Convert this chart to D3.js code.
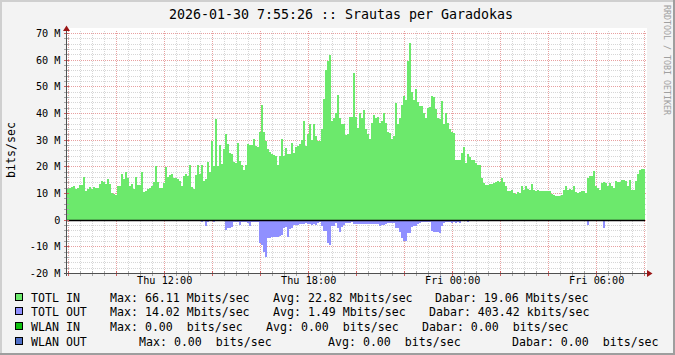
<!DOCTYPE html>
<html>
<head>
<meta charset="utf-8">
<script src="https://cdn.jsdelivr.net/npm/d3@7"></script>
<style>
html, body { margin: 0; padding: 0; background: #f3f3f3; }
svg { display: block; font-family: "DejaVu Sans Mono", monospace; }
text { white-space: pre; }
</style>
</head>
<body>
<svg id="chart" width="675" height="355"></svg>
<script>
// ---- data (5 minute steps, Mbit/s) ----
const startTime = new Date(2026, 0, 29, 7, 57);
const stepMinutes = 5;

const totlIn = [
  12.0, 12.0, 12.2, 12.8, 11.4, 11.8, 12.9, 13.0, 15.9, 10.7,
  11.4, 12.4, 11.6, 12.2, 11.9, 11.8, 13.5, 14.6, 14.0, 13.4,
  15.4, 13.5, 10.0, 9.8, 9.3, 12.8, 12.8, 17.3, 15.4, 18.0,
  15.6, 12.5, 13.4, 11.6, 16.0, 12.9, 13.1, 17.8, 10.3, 10.9,
  11.6, 12.0, 12.5, 14.3, 20.0, 14.1, 12.0, 12.0, 13.8, 19.9,
  16.0, 16.9, 17.3, 15.6, 15.6, 15.3, 14.6, 12.8, 16.5, 17.3,
  16.5, 20.5, 12.3, 11.5, 16.9, 20.5, 17.3, 20.5, 14.4,
  15.1, 21.6, 17.9, 29.5, 20.1, 37.6, 20.1, 27.9, 20.75, 26.6,
  32.0, 28.25, 25.1, 24.75, 21.75, 21.1, 28.9, 22.0, 20.4, 18.6,
  20.4, 28.25, 28.0, 28.1, 30.1, 27.6, 27.4, 32.9, 43.1, 32.9,
  29.5, 26.4, 25.4, 24.5, 24.1, 23.9, 20.4, 23.9, 30.1, 23.9,
  26.75, 24.75, 24.75, 28.9, 25.0, 27.4, 27.6, 28.25, 29.75, 37.0,
  27.5, 32.0, 35.75, 29.75, 35.75, 31.4, 29.5, 29.5, 34.1, 45.4,
  56.1, 59.5, 61.6, 37.0, 38.25, 40.1, 46.9, 38.1, 35.75, 35.75,
  31.6, 32.0, 38.6,
  38.6, 55.1, 38.6, 34.5, 39.9, 38.25, 41.0, 34.1, 32.0, 30.4,
  36.4, 39.1, 38.25, 38.6, 36.1, 37.0, 39.9, 36.4, 32.9, 32.6,
  30.4, 31.4, 43.9, 35.75, 38.25, 42.9, 46.4, 44.75, 59.5, 66.1,
  47.9, 44.75, 48.9, 44.1, 42.6, 42.6, 40.1, 38.25, 41.75, 42.4,
  46.4, 46.0, 41.4, 38.25, 37.9, 44.5, 36.0, 39.9, 36.4, 34.1,
  32.9, 32.6, 22.25, 22.25, 22.25, 24.9, 27.25, 21.1, 24.5, 23.5,
  22.4, 22.25, 21.1, 20.4, 20.6, 15.5, 13.6, 13.0, 13.0, 13.25,
  13.25, 13.6, 14.1, 14.5,
  14.25, 15.75, 14.0, 12.75, 10.6, 10.9, 11.25, 10.0, 9.75, 10.5,
  10.0, 12.75, 11.25, 12.75, 11.6, 11.25, 13.5, 11.25, 10.6, 11.0,
  10.6, 10.6, 10.6, 10.6, 10.9, 10.6, 9.75, 9.25, 9.0, 9.0,
  9.0, 9.4, 11.1, 12.5, 11.25, 11.6, 11.0, 12.5, 10.25, 10.0,
  10.25, 10.6, 10.9, 10.0, 15.5, 16.25, 16.5, 18.4, 12.5, 11.9,
  11.0, 13.75, 14.25, 13.75, 12.75, 13.75, 12.5, 11.9, 14.6, 14.0,
  14.25, 14.75, 15.0, 14.6, 12.5, 15.0, 11.25, 11.25, 14.5, 17.25,
  18.75, 19.1, 19.1
];

const totlOut = [
  0, 0, 0, 0, 0, 0, 0, 0.6, 0.6, 0,
  0, 0, 0, 0, 0, 0, 0, 0, 0, 0,
  0, 0, 0, 0, 0, 0, 0, 0, 0, 0,
  0, 0.5, 0.5, 0.5, 0.5, 0.5, 0.5, 0, 0.5, 0.5,
  0.5, 0.5, 0.5, 0.5, 0.5, 0.5, 0.5, 0.5, 0.5, 0.5,
  0.5, 0.5, 0.5, 0.5, 0.5, 0.5, 0.5, 0, 0.6, 0.6,
  0.6, 0, 0, 0, 0.6, 0.6, 0, 0.7, 0,
  2.4, 0.9, 0.6, 0.6, 0.9, 0.6, 0.6, 0.6, 0.6, 0.6,
  4.0, 3.0, 3.0, 2.75, 0.9, 0.9, 0.9, 1.9, 0.9, 0.9,
  0.9, 1.1, 2.4, 0.9, 0.9, 0.9, 0.9, 8.6, 9.6, 12.1,
  14.02, 6.75, 6.75, 6.4, 6.4, 6.4, 6.4, 6.1, 5.75, 3.0,
  2.6, 6.6, 3.4, 3.1, 2.1, 2.1, 1.9, 1.5, 1.5, 1.5,
  1.4, 1.75, 1.5, 1.9, 1.6, 2.1, 1.4, 0.9, 2.4, 4.25,
  4.25, 8.6, 9.6, 2.4, 2.4, 1.4, 3.25, 4.5, 2.6, 1.9,
  1.4, 1.4, 1.4,
  0.9, 1.5, 1.6, 1.5, 1.75, 1.5, 1.6, 1.5, 1.75, 1.75,
  1.5, 1.75, 1.75, 1.5, 2.4, 2.0, 2.0, 1.75, 1.1, 1.1,
  1.1, 1.1, 3.25, 3.25, 4.6, 6.75, 8.1, 8.1, 5.1, 5.1,
  2.6, 2.4, 2.4, 1.6, 1.1, 0.9, 0.9, 0.9, 0.9, 0.9,
  4.25, 4.6, 4.6, 4.6, 5.1, 2.4, 1.1, 0.9, 0.9, 0.9,
  1.1, 0.9, 1.1, 0.9, 1.1, 0.6, 0.6, 0.6, 0.9, 0.6,
  0.5, 0.5, 0.5, 0.5, 0.5, 0.1, 0.1, 0.1, 0.1, 0.1,
  0.1, 0.1, 0.1, 0.1,
  0, 0, 0, 0, 0, 0, 0, 0, 0, 0,
  0, 0, 0, 0, 0, 0, 0, 0, 0, 0,
  0, 0, 0, 0, 0, 0, 0, 0, 0, 0,
  0, 0, 0, 0, 0, 0, 0, 0, 0, 0,
  0, 0, 0, 0, 1.9, 0.25, 0.25, 0.25, 0.3, 0,
  0, 0, 3.25, 0, 0, 0, 0, 0, 0, 0,
  0, 0, 0.6, 0, 0, 0.6, 0, 0, 0, 0,
  0, 0, 0
];

const titleText = "2026-01-30 7:55:26 :: Srautas per Garadokas";
const yAxisTitle = "bits/sec";
const watermark = "RRDTOOL / TOBI OETIKER";

const legendNames = ["TOTL IN", "TOTL OUT", "WLAN IN", "WLAN OUT"];
const legendMax = ["Max: 66.11 Mbits/sec", "Max: 14.02 Mbits/sec", "Max: 0.00  bits/sec", "Max: 0.00  bits/sec"];
const legendAvg = ["Avg: 22.82 Mbits/sec", "Avg: 1.49 Mbits/sec", "Avg: 0.00  bits/sec", "Avg: 0.00  bits/sec"];
const legendCur = ["Dabar: 19.06 Mbits/sec", "Dabar: 403.42 kbits/sec", "Dabar: 0.00  bits/sec", "Dabar: 0.00  bits/sec"];

// ---- layout / style ----
const W = 675, H = 355;
const plot = { left: 67, right: 645, top: 33, bottom: 273 };
const colIn = "#6ce96c", colOut = "#9090ff";
const legendColors = ["#6ce96c", "#9090ff", "#10c010", "#5070c8"];
const legendCols = [[31, 110, 273, 435], [31, 110, 273, 429], [31, 110, 266, 422], [31, 139, 328, 512]];
const legendY0 = 301.5, legendStep = 14.7;

const times = totlIn.map((d, i) => new Date(+startTime + i * stepMinutes * 60000));
const endTime = new Date(+startTime + totlIn.length * stepMinutes * 60000);

const x = d3.scaleTime().domain([startTime, endTime]).range([plot.left, plot.right]);
const y = d3.scaleLinear().domain([-20, 70]).range([plot.bottom, plot.top]);

const svg = d3.select("#chart");

// background + rrdtool style frame
svg.append("rect").attr("width", W).attr("height", H).attr("fill", "#f3f3f3");
svg.append("path").attr("d", `M0,0H${W}V2H2V${H}H0Z`).attr("fill", "#cfcfcf");
svg.append("path").attr("d", `M${W},${H}H0V${H - 2}H${W - 2}V0H${W}Z`).attr("fill", "#9e9e9e");

// canvas
svg.append("rect")
  .attr("x", plot.left).attr("y", 28)
  .attr("width", 647 - plot.left).attr("height", plot.bottom - 28)
  .attr("fill", "#ffffff");

const px = v => Math.round(v) + 0.5;

// grid
const grid = svg.append("g").attr("shape-rendering", "crispEdges").attr("stroke-dasharray", "1,1");
const yMinor = d3.range(-20, 71, 2).filter(d => d % 10 !== 0);
const yMajor = d3.range(-20, 71, 10);
const xMinor = x.ticks(d3.timeMinute.every(30)).filter(d => d.getMinutes() !== 0 || d.getHours() % 2 !== 0);
const xMajor = x.ticks(d3.timeHour.every(2));

grid.selectAll(".yminor").data(yMinor).join("line")
  .attr("x1", plot.left).attr("x2", 647)
  .attr("y1", d => px(y(d))).attr("y2", d => px(y(d)))
  .attr("stroke", "#d6d6d6");
grid.selectAll(".xminor").data(xMinor).join("line")
  .attr("y1", 31).attr("y2", plot.bottom)
  .attr("x1", d => px(x(d))).attr("x2", d => px(x(d)))
  .attr("stroke", "#d6d6d6");
grid.selectAll(".ymajor").data(yMajor).join("line")
  .attr("x1", plot.left).attr("x2", 647)
  .attr("y1", d => px(y(d))).attr("y2", d => px(y(d)))
  .attr("stroke", "#e8a0a0");
grid.selectAll(".xmajor").data(xMajor).join("line")
  .attr("y1", 31).attr("y2", plot.bottom)
  .attr("x1", d => px(x(d))).attr("x2", d => px(x(d)))
  .attr("stroke", "#e8a0a0");

// data areas (step, one column per 5 minutes)
const stepPts = vals => vals.map((v, i) => [times[i], v]).concat([[endTime, vals[vals.length - 1]]]);

svg.append("path")
  .datum(stepPts(totlIn))
  .attr("d", d3.area().curve(d3.curveStepAfter)
    .x(d => x(d[0])).y0(y(0)).y1(d => y(d[1])))
  .attr("fill", colIn)
  .attr("shape-rendering", "crispEdges");

svg.append("path")
  .datum(stepPts(totlOut))
  .attr("d", d3.area().curve(d3.curveStepAfter)
    .x(d => x(d[0])).y0(y(0)).y1(d => y(-d[1])))
  .attr("fill", colOut)
  .attr("shape-rendering", "crispEdges");

// zero rule
svg.append("line")
  .attr("x1", plot.left).attr("x2", plot.right)
  .attr("y1", px(y(0))).attr("y2", px(y(0)))
  .attr("stroke", "#000").attr("stroke-width", 1.3);

// axis ticks
const ticks = svg.append("g").attr("shape-rendering", "crispEdges");
ticks.selectAll(".ytm").data(yMinor).join("line")
  .attr("x1", plot.left - 3).attr("x2", plot.left + 2)
  .attr("y1", d => px(y(d))).attr("y2", d => px(y(d)))
  .attr("stroke", "#a8a8a8");
ticks.selectAll(".ytM").data(yMajor).join("line")
  .attr("x1", plot.left - 3).attr("x2", plot.left + 2)
  .attr("y1", d => px(y(d))).attr("y2", d => px(y(d)))
  .attr("stroke", "#d06060");
ticks.selectAll(".xtm").data(xMinor).join("line")
  .attr("y1", plot.bottom - 2).attr("y2", plot.bottom + 3)
  .attr("x1", d => px(x(d))).attr("x2", d => px(x(d)))
  .attr("stroke", "#a8a8a8");
ticks.selectAll(".xtM").data(xMajor).join("line")
  .attr("y1", plot.bottom - 2).attr("y2", plot.bottom + 3)
  .attr("x1", d => px(x(d))).attr("x2", d => px(x(d)))
  .attr("stroke", "#d06060");

// axis lines + arrows
ticks.append("line")
  .attr("x1", plot.left - 3).attr("x2", 648)
  .attr("y1", plot.bottom + 0.5).attr("y2", plot.bottom + 0.5)
  .attr("stroke", "#505050");
ticks.append("line")
  .attr("x1", plot.left - 0.5).attr("x2", plot.left - 0.5)
  .attr("y1", plot.bottom + 3).attr("y2", 29)
  .attr("stroke", "#505050");
svg.append("path")
  .attr("d", `M647,${plot.bottom - 3}L652.5,${plot.bottom + 0.5}L647,${plot.bottom + 4}Z`)
  .attr("fill", "#9a1515");
svg.append("path")
  .attr("d", `M63,31L66.5,25.5L70,31Z`)
  .attr("fill", "#9a1515");

// tick labels via d3 axes
const yAxis = svg.append("g")
  .attr("transform", `translate(${plot.left},0)`)
  .call(d3.axisLeft(y).tickValues(yMajor).tickSize(0).tickPadding(6.5)
    .tickFormat(d => d === 0 ? "0" : d + " M"));
yAxis.select(".domain").remove();
yAxis.selectAll("text")
  .attr("font-family", "DejaVu Sans Mono").attr("font-size", "10.2px").attr("fill", "#000")
  .attr("dy", "0.35em");

const xAxis = svg.append("g")
  .attr("transform", `translate(0,${plot.bottom})`)
  .call(d3.axisBottom(x).ticks(d3.timeHour.every(6)).tickSize(0).tickPadding(3.8)
    .tickFormat(d3.timeFormat("%a %H:%M")));
xAxis.select(".domain").remove();
xAxis.selectAll("text")
  .attr("font-family", "DejaVu Sans Mono").attr("font-size", "10.2px").attr("fill", "#000");

// title, axis title, watermark
svg.append("text")
  .attr("x", 341).attr("y", 19)
  .attr("text-anchor", "middle")
  .attr("font-size", "13.3px").attr("fill", "#000")
  .text(titleText);

svg.append("text")
  .attr("transform", "translate(14.5,150) rotate(-90)")
  .attr("text-anchor", "middle")
  .attr("font-size", "11.6px").attr("fill", "#000")
  .text(yAxisTitle);

svg.append("text")
  .attr("transform", "translate(663.5,5) rotate(90)")
  .attr("font-size", "8.3px").attr("fill", "#a0a0a0")
  .text(watermark);

// legend
const legend = svg.append("g").attr("font-size", "11.6px").attr("fill", "#000");
legendNames.forEach((name, i) => {
  const by = legendY0 + i * legendStep;
  legend.append("rect")
    .attr("x", 15.5).attr("y", by - 8.5).attr("width", 7).attr("height", 7)
    .attr("fill", legendColors[i]).attr("stroke", "#000").attr("stroke-width", 1)
    .attr("shape-rendering", "crispEdges");
  const parts = [name, legendMax[i], legendAvg[i], legendCur[i]];
  parts.forEach((t, j) => {
    legend.append("text")
      .attr("x", legendCols[i][j]).attr("y", by)
      .text(t);
  });
});
</script>
</body>
</html>
